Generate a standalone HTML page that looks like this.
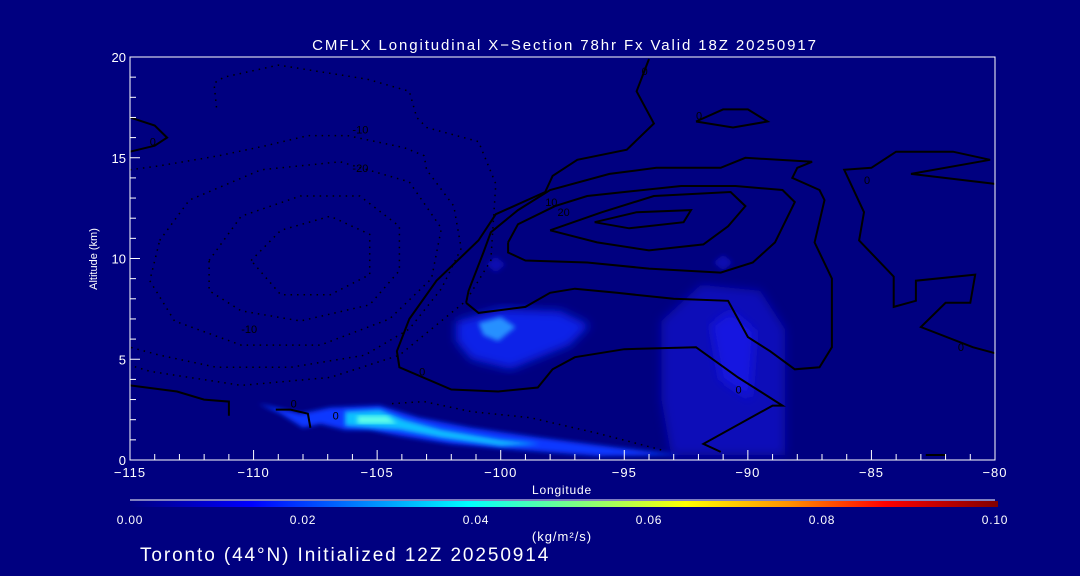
<!DOCTYPE html>
<html><head><meta charset="utf-8"><style>
html,body{margin:0;padding:0;background:#000080;}
svg{display:block;font-family:"Liberation Sans",sans-serif;}
</style></head><body>
<svg id="chart" width="1080" height="576" viewBox="0 0 1080 576">
<defs>
<filter id="blur2"><feGaussianBlur stdDeviation="2.5"/></filter>
<filter id="blur4"><feGaussianBlur stdDeviation="5"/></filter>
<linearGradient id="cbar" x1="0" x2="1" y1="0" y2="0">
<stop offset="0" stop-color="#000080"/><stop offset="0.14" stop-color="#0000ff"/>
<stop offset="0.39" stop-color="#00ffff"/><stop offset="0.55" stop-color="#a0ff60"/>
<stop offset="0.64" stop-color="#ffff00"/><stop offset="0.76" stop-color="#ff9000"/>
<stop offset="0.87" stop-color="#ff0000"/><stop offset="1" stop-color="#800000"/>
</linearGradient>
</defs>
<rect width="1080" height="576" fill="#000080"/>
<text x="565" y="50" fill="#fff" font-size="15" letter-spacing="1.9" text-anchor="middle">CMFLX Longitudinal X−Section 78hr  Fx Valid 18Z 20250917</text>
<g id="fills"></g>
<g id="contours"></g>
<g id="axes"></g>
<text x="97" y="259" fill="#fff" font-size="11" text-anchor="middle" transform="rotate(-90 97 259)">Altitude (km)</text>
<text x="562" y="494" fill="#fff" font-size="12" letter-spacing="0.8" text-anchor="middle">Longitude</text>
<line x1="130" y1="500" x2="995" y2="500" stroke="#fff" stroke-width="1"/>
<rect x="130" y="501" width="868" height="6" fill="url(#cbar)"/>
<g id="cbticks"></g>
<text x="562" y="541" fill="#fff" font-size="13" letter-spacing="1" text-anchor="middle">(kg/m²/s)</text>
<text x="140" y="561" fill="#fff" font-size="19" letter-spacing="1.9">Toronto (44°N) Initialized 12Z 20250914</text>
</svg>
<script>
const xTicks=[-115,-110,-105,-100,-95,-90,-85,-80];
const yTicks=[0,5,10,15,20];
const cbLabels=["0.00","0.02","0.04","0.06","0.08","0.10"];
const cbValues=[0,0.02,0.04,0.06,0.08,0.10];
const posContours=[
[[-94.0,19.9],[-94.5,18.3],[-93.8,16.7],[-94.9,15.4],[-96.9,14.9],[-97.9,14.1],[-98.2,13.3],[-100.2,12.2],[-100.9,10.9],[-102.6,8.9],[-103.7,7.0],[-104.2,5.4],[-104.1,4.6],[-102.0,3.5],[-100.1,3.4],[-98.5,3.6],[-97.9,4.5],[-97.0,5.1],[-95.0,5.5],[-92.1,5.6],[-90.4,4.1],[-88.6,2.7],[-89.0,2.7],[-91.8,0.8],[-91.1,0.4]],
[[-101.4,7.8],[-101.3,8.4],[-100.7,10.3],[-100.4,11.3],[-99.3,12.4],[-98.0,13.4],[-95.6,14.2],[-93.7,14.5],[-91.1,14.5],[-90.1,15.0],[-87.4,14.8],[-88.0,14.5],[-88.2,14.0],[-87.1,13.4],[-86.9,12.9],[-87.3,10.8],[-86.6,9.0],[-86.6,5.6],[-87.1,4.6],[-88.1,4.5],[-89.1,5.4],[-90.0,6.1],[-90.8,7.9],[-93.0,8.0],[-95.3,8.3],[-97.0,8.5],[-98.0,8.3],[-99.0,7.6],[-100.9,7.3],[-101.4,7.8]],
[[-99.7,10.8],[-99.7,10.3],[-99.0,9.9],[-96.5,9.8],[-94.0,9.5],[-91.1,9.3],[-89.8,9.8],[-88.9,10.8],[-88.1,12.8],[-88.6,13.4],[-90.5,13.6],[-92.7,13.6],[-96.5,13.1],[-97.8,12.6],[-99.3,11.7],[-99.7,10.8]],
[[-98.0,11.4],[-95.9,12.3],[-93.8,13.1],[-90.7,13.3],[-90.1,12.6],[-90.8,11.6],[-91.8,10.7],[-94.0,10.4],[-96.1,10.8],[-98.0,11.4]],
[[-96.2,11.8],[-94.5,12.3],[-92.3,12.4],[-92.6,11.8],[-94.8,11.5],[-96.2,11.8]],
[[-92.1,16.8],[-91.0,17.4],[-90.0,17.4],[-89.2,16.8],[-90.6,16.5],[-92.1,16.8]],
[[-80.0,13.7],[-83.4,14.2],[-80.2,14.9],[-81.7,15.3],[-84.0,15.3],[-85.0,14.5],[-86.1,14.4],[-85.3,12.3],[-85.5,10.9],[-84.1,9.1],[-84.1,7.6],[-83.2,7.9],[-83.2,8.9],[-80.8,9.2],[-81.0,7.8],[-82.0,7.8],[-83.0,6.6],[-80.9,5.6],[-80.0,5.3]],
[[-115,17.0],[-114.0,16.6],[-113.5,16.0],[-114.0,15.6],[-115,15.3]],
[[-115,3.7],[-113.1,3.4],[-112.0,3.0],[-111.0,2.9],[-111.0,2.2]],
[[-109.1,2.5],[-108.5,2.5],[-107.8,2.3],[-107.7,1.6]],
[[-82.8,0.25],[-82.0,0.25]]
];
const negContours=[
[[-111.5,17.5],[-111.6,18.7],[-111.2,19.0],[-109.0,19.6],[-105.4,18.9],[-103.7,18.3],[-103.4,17.0],[-103.0,16.5],[-100.9,15.8],[-100.2,13.7],[-100.4,9.9],[-101.4,7.9],[-102.8,6.5],[-104.1,5.2],[-106.9,4.1],[-110.5,3.7],[-114.2,4.4],[-115,4.7]],
[[-115,14.4],[-113.8,14.6],[-111.4,15.1],[-109.5,15.6],[-107.8,16.1],[-106.2,16.1],[-103.9,15.5],[-103.1,15.1],[-103.0,14.4],[-101.9,12.6],[-101.6,10.5],[-102.4,8.5],[-103.7,6.5],[-105.5,5.2],[-108.5,4.6],[-111.5,4.6],[-113.8,5.2],[-115,5.6]],
[[-113.8,10.9],[-112.6,12.9],[-109.7,14.4],[-106.5,14.8],[-103.7,13.8],[-102.4,11.5],[-102.8,9.0],[-104.5,7.0],[-107.3,5.7],[-110.5,5.7],[-113.2,6.9],[-114.2,8.9],[-113.8,10.9]],
[[-111.8,9.9],[-110.5,12.1],[-108.1,13.1],[-105.7,13.1],[-104.1,11.6],[-104.1,9.4],[-105.3,7.7],[-108.1,6.9],[-110.5,7.4],[-111.8,8.4],[-111.8,9.9]],
[[-110.1,9.9],[-108.9,11.4],[-106.9,12.1],[-105.3,11.2],[-105.3,9.2],[-106.9,8.2],[-108.9,8.2],[-110.1,9.9]],
[[-104.4,2.8],[-103.1,2.9],[-101.2,2.4],[-98.8,2.1],[-96.0,1.3],[-93.5,0.5]]
];
const contourLabels=[["0",-114.2,15.6],["0",-108.5,2.6],["-10",-106.0,16.2],["-20",-106.0,14.3],["-10",-110.5,6.3],["0",-103.3,4.2],["10",-98.2,12.6],["20",-97.7,12.1],["0",-94.3,19.1],["0",-92.1,16.9],["0",-85.3,13.7],["0",-81.5,5.4],["0",-90.5,3.3],["0",-106.8,2.0]];
const fillShapes=[
{c:"#0a0ab8",b:4,p:[[-93.5,6.9],[-91.9,8.7],[-89.5,8.4],[-88.5,6.5],[-88.5,0.25],[-93.1,0.25],[-93.5,3.0]]},
{c:"#1212e0",b:4,p:[[-91.5,6.7],[-90.7,7.4],[-89.7,6.4],[-89.9,3.0],[-91.1,4.0]]},
{c:"#0a0ab0",b:2,p:[[-100.6,9.7],[-100.2,10.1],[-99.8,9.7],[-100.2,9.3]]},
{c:"#0a0ab0",b:2,p:[[-91.4,9.8],[-91.0,10.2],[-90.6,9.8],[-91.0,9.4]]},
{c:"#0c20e8",b:4,p:[[-101.8,6.9],[-100.0,7.5],[-97.6,7.4],[-96.4,6.7],[-97.2,5.7],[-99.6,4.5],[-101.2,5.0],[-101.8,5.9]]},
{c:"#2890ff",b:2,p:[[-100.9,6.8],[-100.0,7.1],[-99.4,6.6],[-100.1,5.9],[-100.7,6.2]]},
{c:"#0838ff",b:2,p:[[-109.8,2.8],[-108.1,2.3],[-106.9,2.6],[-104.9,2.7],[-103.3,2.1],[-101.2,1.6],[-98.4,1.1],[-95.2,0.6],[-92.7,0.25],[-96.0,0.2],[-99.2,0.5],[-102.0,0.8],[-104.1,1.2],[-105.3,1.5],[-106.3,1.5],[-107.3,1.8],[-108.0,1.6],[-108.9,2.3]]},
{c:"#10c0ff",b:2,p:[[-106.3,2.4],[-104.9,2.5],[-103.9,2.0],[-102.4,1.5],[-100.0,1.0],[-98.4,0.8],[-100.0,0.7],[-102.4,1.1],[-104.1,1.5],[-105.3,1.6],[-106.3,1.7]]},
{c:"#60ffe8",b:2,p:[[-105.8,2.2],[-104.6,2.2],[-104.2,1.8],[-105.8,1.8]]}
];
const X0=130,X1=995,Y0=460,Y1=57;
function sx(v){return X0+(v+115)/35*(X1-X0);}
function sy(v){return Y0-v/20*(Y0-Y1);}
function pts(a){return a.map(q=>sx(q[0]).toFixed(1)+","+sy(q[1]).toFixed(1)).join(" ");}
const NS="http://www.w3.org/2000/svg";
function mk(t,at,par){const e=document.createElementNS(NS,t);for(const k in at)e.setAttribute(k,at[k]);par.appendChild(e);return e;}
const gF=document.getElementById("fills");
fillShapes.forEach((f,i)=>{
 const e=mk("polygon",{points:pts(f.p),fill:f.c,filter:f.b>3?"url(#blur4)":"url(#blur2)"},gF);
 
 
});
const gC=document.getElementById("contours");
posContours.forEach(c=>{
 const e=mk("polyline",{points:pts(c),fill:"none",stroke:"#000","stroke-width":"2"},gC);
 
 
});
negContours.forEach(c=>{
 const e=mk("polyline",{points:pts(c),fill:"none",stroke:"#000","stroke-width":"1.5","stroke-dasharray":"1.5 5"},gC);
 
 
});
contourLabels.forEach(l=>{
 const e=mk("text",{x:sx(l[1]),y:sy(l[2]),fill:"#000","font-size":"11"},gC);
 e.textContent=l[0];
 
 
});
const gA=document.getElementById("axes");
const fr=mk("rect",{x:X0,y:Y1,width:X1-X0,height:Y0-Y1,fill:"none",stroke:"#fff","stroke-width":"1"},gA);


for(let v=-115;v<=-80;v++){
 const major=(v%5===0);
 const t=mk("line",{x1:sx(v),x2:sx(v),y1:Y0,y2:Y0-(major?10:6),stroke:"#fff","stroke-width":"1"},gA);
 
 
}
xTicks.forEach(v=>{
 const e=mk("text",{x:sx(v),y:Y0+17,fill:"#fff","font-size":"13","letter-spacing":"1","text-anchor":"middle"},gA);
 e.textContent=(v<0?"−":"")+Math.abs(v);
 
 
});
for(let v=0;v<=20;v++){
 const major=(v%5===0);
 const t=mk("line",{x1:X0,x2:X0+(major?10:6),y1:sy(v),y2:sy(v),stroke:"#fff","stroke-width":"1"},gA);
 
 
}
yTicks.forEach(v=>{
 const e=mk("text",{x:X0-4,y:sy(v)+5,fill:"#fff","font-size":"13","text-anchor":"end"},gA);
 e.textContent=v;
 
 
});
const gB=document.getElementById("cbticks");
cbValues.forEach((v,i)=>{
 const e=mk("text",{x:130+v/0.1*865,y:524,fill:"#fff","font-size":"12","letter-spacing":"0.8","text-anchor":"middle"},gB);
 e.textContent=cbLabels[i];
 
 
});
</script>
</body></html>
